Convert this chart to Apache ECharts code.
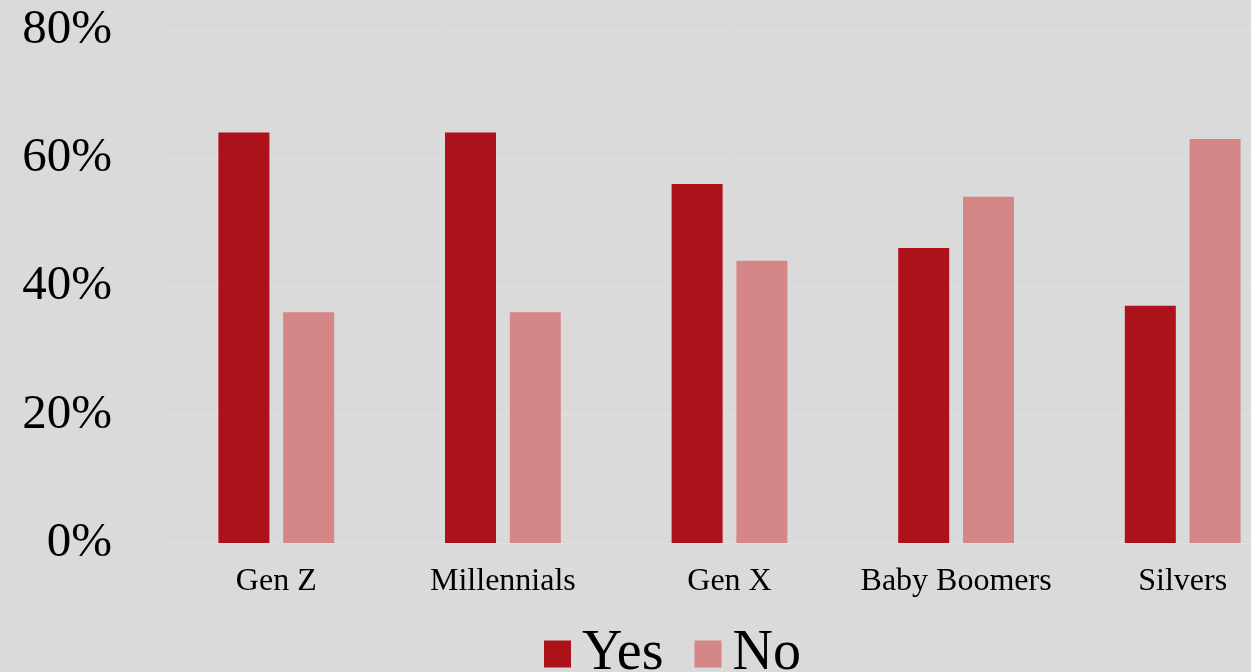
<!DOCTYPE html>
<html><head><meta charset="utf-8">
<script src="https://cdn.jsdelivr.net/npm/echarts@6/dist/echarts.min.js"></script>
<style>html,body{margin:0;padding:0;background:#dadada;overflow:hidden;}#c{width:1296px;height:672px;}</style>
</head><body><div id="c"></div>
<script>
const categories = ['Gen Z','Millennials','Gen X','Baby Boomers','Silvers'];
const yesValues = [64, 64, 56, 46, 37];
const noValues = [36, 36, 44, 54, 63];
const yTicks = [0, 20, 40, 60, 80];

const chart = echarts.init(document.getElementById('c'), null, {renderer:'canvas'});
const font = '"Liberation Serif","Times New Roman",serif';
chart.setOption({
  backgroundColor: '#dadada',
  animation: false,
  textStyle: {fontFamily: font},
  grid: {left: 163, right: 0, top: 30, bottom: 129, containLabel: false},
  legend: {
    data: ['Yes','No'],
    left: 539, top: 613,
    itemWidth: 27, itemHeight: 27, itemGap: 31,
    icon: 'rect',
    textStyle: {fontFamily: font, fontSize: 56, color: '#000', lineHeight: 56, padding: [16,0,0,6]}
  },
  xAxis: {
    type: 'category', data: categories,
    axisLine: {show: true, lineStyle: {color: '#e0e0e0'}},
    axisTick: {show: false},
    axisLabel: {fontFamily: font, fontSize: 32, color: '#000', margin: 23, interval: 0}
  },
  yAxis: {
    type: 'value', min: yTicks[0], max: yTicks[yTicks.length-1], interval: 20,
    axisLine: {show: false}, axisTick: {show: false},
    splitLine: {lineStyle: {color: '#e0e0e0', width: 1}},
    axisLabel: {fontFamily: font, fontSize: 49, color: '#000', margin: 51, padding: [7,0,0,0], formatter: v => v + '%'}
  },
  series: [
    {name: 'Yes', type: 'bar', data: yesValues, barWidth: 51, barGap: '27%', itemStyle: {color: '#ad111a'}},
    {name: 'No', type: 'bar', data: noValues, barWidth: 51, itemStyle: {color: '#d58787'}}
  ]
});
</script></body></html>
